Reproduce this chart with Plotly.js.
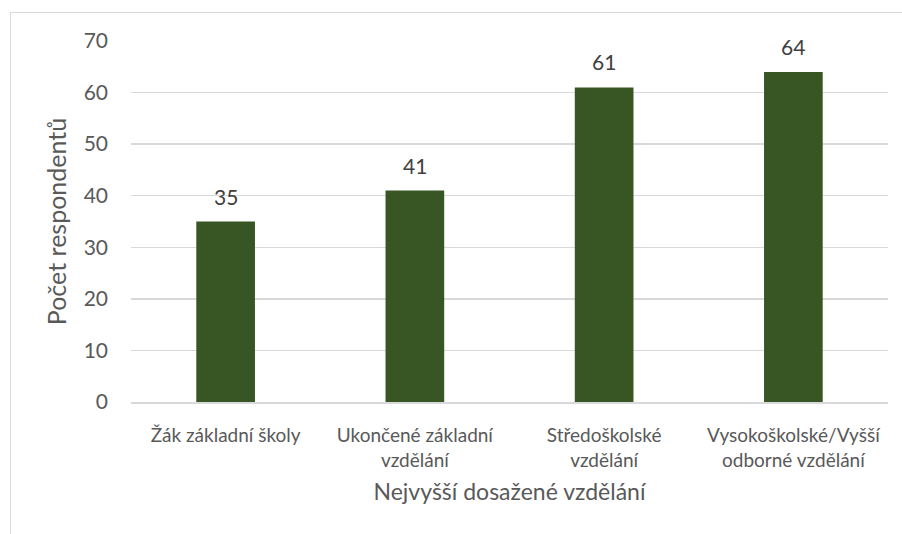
<!DOCTYPE html>
<html>
<head>
<meta charset="utf-8">
<script src="https://cdn.plot.ly/plotly-3.0.1.min.js"></script>
<style>
  html, body { margin: 0; padding: 0; background: #fff; }
  #wrap { position: relative; width: 902px; height: 534px; }
  #chart { width: 902px; height: 534px; }
  #frame { position: absolute; left: 10px; top: 12px; right: -5px; bottom: -5px;
           border-left: 1.5px solid #d9d9d9; border-top: 1.5px solid #d9d9d9; pointer-events: none; }
</style>
</head>
<body>
<div id="wrap">
  <div id="chart"></div>
  <div id="frame"></div>
</div>
<script>
const categories = [
  "Žák základní školy",
  "Ukončené základní<br>vzdělání",
  "Středoškolské<br>vzdělání",
  "Vysokoškolské/Vyšší<br>odborné vzdělání"
];
const values = [35, 41, 61, 64];
const yTicks = [0, 10, 20, 30, 40, 50, 60, 70];

const font = "Lato, 'Open Sans', sans-serif";
const grey = "#595959";

const trace = {
  type: "bar",
  x: categories,
  y: values,
  width: 0.31,
  marker: { color: "#375623" },
  cliponaxis: false,
  hoverinfo: "none"
};

const annotations = categories.map((c, i) => ({
  x: c,
  y: values[i],
  xref: "x",
  yref: "y",
  text: String(values[i]),
  showarrow: false,
  yanchor: "bottom",
  yshift: 11,
  font: { family: font, size: 21, color: "#404040" }
}));

const layout = {
  width: 902,
  height: 534,
  margin: { l: 131, r: 14, t: 41, b: 132 },
  paper_bgcolor: "#fff",
  plot_bgcolor: "#fff",
  showlegend: false,
  bargap: 0.69,
  annotations: annotations,
  xaxis: {
    type: "category",
    tickfont: { family: font, size: 19, color: grey },
    showline: true,
    linecolor: "#d9d9d9",
    linewidth: 1.5,
    ticks: "",
    showgrid: false,
    ticklabelstandoff: 16,
    title: { text: "Nejvyšší dosažené vzdělání", font: { family: font, size: 23, color: grey }, standoff: 14 }
  },
  yaxis: {
    range: [0, 70],
    tickvals: yTicks,
    ticktext: yTicks.map(String),
    tickfont: { family: font, size: 21, color: grey },
    showgrid: true,
    gridcolor: "#d9d9d9",
    gridwidth: 1.5,
    zeroline: false,
    showline: false,
    ticks: "",
    ticklabelstandoff: 22,
    title: { text: "Počet respondentů", font: { family: font, size: 25, color: grey }, standoff: 9 }
  }
};

Plotly.newPlot("chart", [trace], layout, { staticPlot: true, displayModeBar: false });
</script>
</body>
</html>
